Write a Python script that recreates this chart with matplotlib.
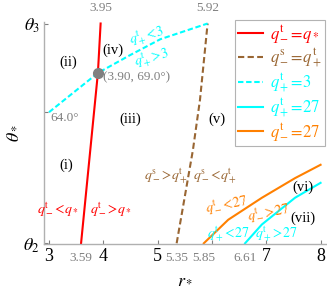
import matplotlib
matplotlib.use("Agg")
import matplotlib.pyplot as plt
from matplotlib.lines import Line2D
from matplotlib.transforms import blended_transform_factory

plt.rcParams['font.family'] = ['Liberation Serif', 'DejaVu Serif']
plt.rcParams['mathtext.fontset'] = 'stix'

# ---- data ----
theta2 = 47.3
theta3 = 75.3
r_red = [3.59, 3.90, 3.95]
th_red = [theta2, 69.0, theta3]
r_cyan3 = [3.0, 3.9, 4.5, 5.05, 5.92]
th_cyan3 = [64.0, 69.0, 71.3, 73.3, theta3]
r_brown = [5.35, 5.65, 5.78, 5.92]
th_brown = [theta2, 59.2, 65.6, theta3]
r_orange = [5.85, 6.30, 6.92, 7.53, 8.0]
th_orange = [theta2, 50.3, 53.1, 55.6, 57.3]
r_cyan27 = [6.61, 6.92, 7.53, 8.0]
th_cyan27 = [theta2, 49.7, 53.1, 55.0]
point = (3.90, 69.0)
x_ticks = [3, 4, 5, 6, 7, 8]
x_ticklabels = ['3', '4', '5', '', '7', '8']
special_bottom = [3.59, 5.35, 5.85, 6.61]
special_top = [3.95, 5.92]

RED = '#ff0000'
BROWN = '#996633'
CYAN = '#00ffff'
ORANGE = '#ff8000'
GRAY = '#808080'

fig = plt.figure(figsize=(3.27, 2.97), dpi=100)
ax = fig.add_axes([44.3/327, (297-244.3)/297, (326-44.3)/327, (244.3-21.7)/297])
ax.set_xlim(2.913, 8.1)
ax.set_ylim(theta2 - 0.13, theta3 + 0.23)

ax.plot(r_red, th_red, color=RED, lw=1.5)
ax.plot(r_brown, th_brown, color=BROWN, lw=1.5, dashes=(3, 1.6))
ax.plot(r_cyan3, th_cyan3, color=CYAN, lw=1.5, dashes=(2.6, 1.3))
ax.plot(r_cyan27, th_cyan27, color=CYAN, lw=1.5)
ax.plot(r_orange, th_orange, color=ORANGE, lw=1.5)
ax.plot([point[0]], [point[1]], 'o', color=GRAY, ms=7, zorder=5)

for s in ['top', 'right']:
    ax.spines[s].set_visible(False)
for s in ['left', 'bottom']:
    ax.spines[s].set_color('#b0b0b0')
    ax.spines[s].set_linewidth(1.0)

ax.set_xticks(x_ticks)
ax.set_xticklabels(x_ticklabels, fontsize=13)
ax.set_yticks([theta2, 64.0, theta3])
ax.set_yticklabels([r'$\theta_2$', '', r'$\theta_3$'], fontsize=13)
ax.tick_params(direction='in', length=3, color=GRAY, width=0.8, pad=3)

tb = blended_transform_factory(ax.transData, ax.transAxes)
for v in special_bottom:
    ax.text(v, -0.062, f'{v:.2f}', transform=tb, ha='center', va='center',
            color=GRAY, fontsize=9.5)
for v in special_top:
    ax.text(v, 1.063, f'{v:.2f}', transform=tb, ha='center', va='center',
            color=GRAY, fontsize=9.5)

ax.set_xlabel(r'$r_*$', fontsize=13, labelpad=4)
ax.set_ylabel(r'$\theta_*$', fontsize=13, labelpad=2)

ax.text(3.02, 63.2, '64.0°', color=GRAY, fontsize=9.5, ha='left', va='center')
ax.text(4.0, 68.5, '(3.90, 69.0°)', color=GRAY, fontsize=9.5, ha='left', va='center')

fs = 10
for lab, (x, y) in {'(i)': (3.31, 57.3), '(ii)': (3.36, 70.4), '(iii)': (4.49, 63.1),
                    '(iv)': (4.18, 71.9), '(v)': (6.10, 63.1), '(vi)': (7.68, 54.5),
                    '(vii)': (7.68, 50.5)}.items():
    ax.text(x, y, lab, fontsize=10.5, ha='center', va='center', color='black')

ax.text(3.54, 51.6, r'$q_-^{\rm t}\!<\!q_*$', color=RED, fontsize=fs, ha='right', va='center')
ax.text(3.76, 51.6, r'$q_-^{\rm t}\!>\!q_*$', color=RED, fontsize=fs, ha='left', va='center')
ax.text(4.80, 73.6, r'$q_+^{\rm t}\!<\!3$', color=CYAN, fontsize=fs, ha='center', va='center', rotation=14)
ax.text(4.89, 70.9, r'$q_+^{\rm t}\!>\!3$', color=CYAN, fontsize=fs, ha='center', va='center', rotation=14)
ax.text(5.16, 55.8, r'$q_-^{\rm s}\!>\!q_+^{\rm t}$', color=BROWN, fontsize=fs, ha='center', va='center')
ax.text(6.06, 55.8, r'$q_-^{\rm s}\!<\!q_+^{\rm t}$', color=BROWN, fontsize=fs, ha='center', va='center')
ax.text(6.27, 52.2, r'$q_-^{\rm t}\!<\!27$', color=ORANGE, fontsize=fs, ha='center', va='center', rotation=10)
ax.text(7.04, 51.15, r'$q_-^{\rm t}\!>\!27$', color=ORANGE, fontsize=fs, ha='center', va='center', rotation=10)
ax.text(6.30, 48.4, r'$q_+^{\rm t}\!<\!27$', color=CYAN, fontsize=fs, ha='center', va='center')
ax.text(7.19, 48.4, r'$q_+^{\rm t}\!>\!27$', color=CYAN, fontsize=fs, ha='center', va='center')

handles = [
    Line2D([], [], color=RED, lw=1.5),
    Line2D([], [], color=BROWN, lw=1.5, dashes=(3, 1.6)),
    Line2D([], [], color=CYAN, lw=1.5, dashes=(2.6, 1.3)),
    Line2D([], [], color=CYAN, lw=1.5),
    Line2D([], [], color=ORANGE, lw=1.5),
]
labels = [r'$q_-^{\rm t}\!=\!q_*$', r'$q_-^{\rm s}\!=\!q_+^{\rm t}$', r'$q_+^{\rm t}\!=\!3$',
          r'$q_+^{\rm t}\!=\!27$', r'$q_-^{\rm t}\!=\!27$']
leg = ax.legend(handles, labels, loc='upper right', bbox_to_anchor=(325/327, (297-20)/297),
                bbox_transform=fig.transFigure, fontsize=12, frameon=True, fancybox=False,
                handlelength=1.5, handletextpad=0.4, labelspacing=0.12, borderpad=0.2,
                borderaxespad=0, labelcolor=[RED, BROWN, CYAN, CYAN, ORANGE])
leg.get_frame().set_edgecolor('#a0a0a0')
leg.get_frame().set_linewidth(0.8)

fig.savefig('out.png', dpi=100)
